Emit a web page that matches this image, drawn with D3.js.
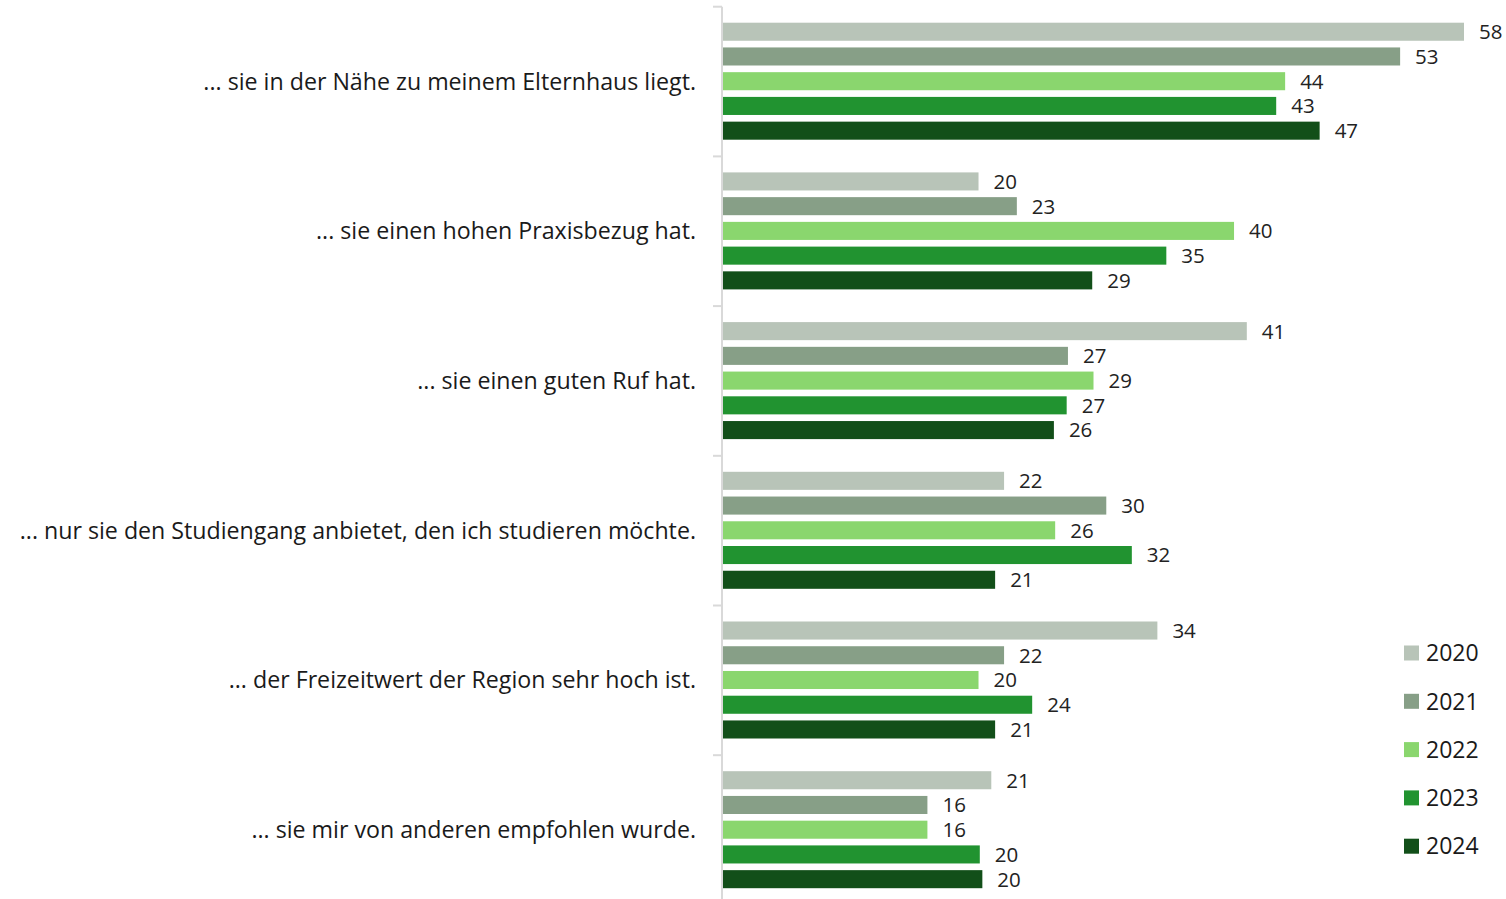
<!DOCTYPE html>
<html>
<head>
<meta charset="utf-8">
<script src="https://cdn.jsdelivr.net/npm/d3@7"></script>
<style>
  body { margin: 0; background: #fff; }
  text { font-family: "Open Sans", "Noto Sans", sans-serif; fill: #1a1a1a; }
</style>
</head>
<body>
<div id="content"></div>
<script>
var width = 1506, height = 899;

var categories = [
  "... sie in der Nähe zu meinem Elternhaus liegt.",
  "... sie einen hohen Praxisbezug hat.",
  "... sie einen guten Ruf hat.",
  "... nur sie den Studiengang anbietet, den ich studieren möchte.",
  "... der Freizeitwert der Region sehr hoch ist.",
  "... sie mir von anderen empfohlen wurde."
];
var years = ["2020", "2021", "2022", "2023", "2024"];
var colors = ["#b8c4b8", "#879f87", "#8ad66e", "#219330", "#124f19"];

// values per year, in category order (percent, labels are rounded)
var v2020 = [58, 20, 41, 22, 34, 21];
var v2021 = [53, 23, 27, 30, 22, 16];
var v2022 = [44, 40, 29, 26, 20, 16];
var v2023 = [43.3, 34.7, 26.9, 32, 24.2, 20.1];
var v2024 = [46.7, 28.9, 25.9, 21.3, 21.3, 20.3];
var series = [v2020, v2021, v2022, v2023, v2024];

var svg = d3.select("#content")
    .append("svg")
    .attr("width", width)
    .attr("height", height);

var xscale = d3.scaleLinear()
    .domain([0, 58])
    .range([723, 1464]);

var yscale = d3.scaleBand()
    .domain(categories)
    .range([6.7, 6.7 + 6 * 149.7]);

var inner = d3.scaleBand()
    .domain(years)
    .range([16, 133])
    .paddingInner(0.27);

var color = d3.scaleOrdinal().domain(years).range(colors);
var fmt = d3.format(".0f");

// axis line + ticks at band edges
svg.append("line")
    .attr("x1", 722).attr("x2", 722)
    .attr("y1", yscale.range()[0]).attr("y2", yscale.range()[1])
    .attr("stroke", "#d9d9d9").attr("stroke-width", 2);

var edges = categories.map(function(c) { return yscale(c); }).concat([yscale.range()[1]]);
svg.selectAll(".tick-edge")
    .data(edges)
    .enter().append("line")
    .attr("class", "tick-edge")
    .attr("x1", 713).attr("x2", 722)
    .attr("y1", function(d) { return d; })
    .attr("y2", function(d) { return d; })
    .attr("stroke", "#d9d9d9").attr("stroke-width", 2);

// category labels
svg.selectAll(".cat")
    .data(categories)
    .enter().append("text")
    .attr("class", "cat")
    .attr("x", 696)
    .attr("y", function(d) { return yscale(d) + yscale.bandwidth() / 2; })
    .attr("dy", "0.35em")
    .attr("text-anchor", "end")
    .style("font-size", "23.2px")
    .text(function(d) { return d; });

// bars
var rows = [];
categories.forEach(function(c, i) {
  years.forEach(function(y, j) {
    rows.push({cat: c, year: y, value: series[j][i]});
  });
});

svg.selectAll(".bar")
    .data(rows)
    .enter().append("rect")
    .attr("class", "bar")
    .attr("x", xscale(0))
    .attr("y", function(d) { return yscale(d.cat) + inner(d.year); })
    .attr("width", function(d) { return xscale(d.value) - xscale(0); })
    .attr("height", inner.bandwidth())
    .attr("fill", function(d) { return color(d.year); });

svg.selectAll(".val")
    .data(rows)
    .enter().append("text")
    .attr("class", "val")
    .attr("x", function(d) { return xscale(d.value) + 15; })
    .attr("y", function(d) { return yscale(d.cat) + inner(d.year) + inner.bandwidth() / 2; })
    .attr("dy", "0.36em")
    .style("font-size", "20.5px")
    .style("fill", "#222")
    .text(function(d) { return fmt(d.value); });

// legend
var legend = svg.selectAll(".legend")
    .data(years)
    .enter().append("g")
    .attr("class", "legend")
    .attr("transform", function(d, i) { return "translate(1404," + (653 + i * 48.3) + ")"; });

legend.append("rect")
    .attr("x", 0).attr("y", -7.5)
    .attr("width", 15).attr("height", 15)
    .attr("fill", function(d) { return color(d); });

legend.append("text")
    .attr("x", 22)
    .attr("dy", "0.36em")
    .style("font-size", "23px")
    .text(function(d) { return d; });
</script>
</body>
</html>
